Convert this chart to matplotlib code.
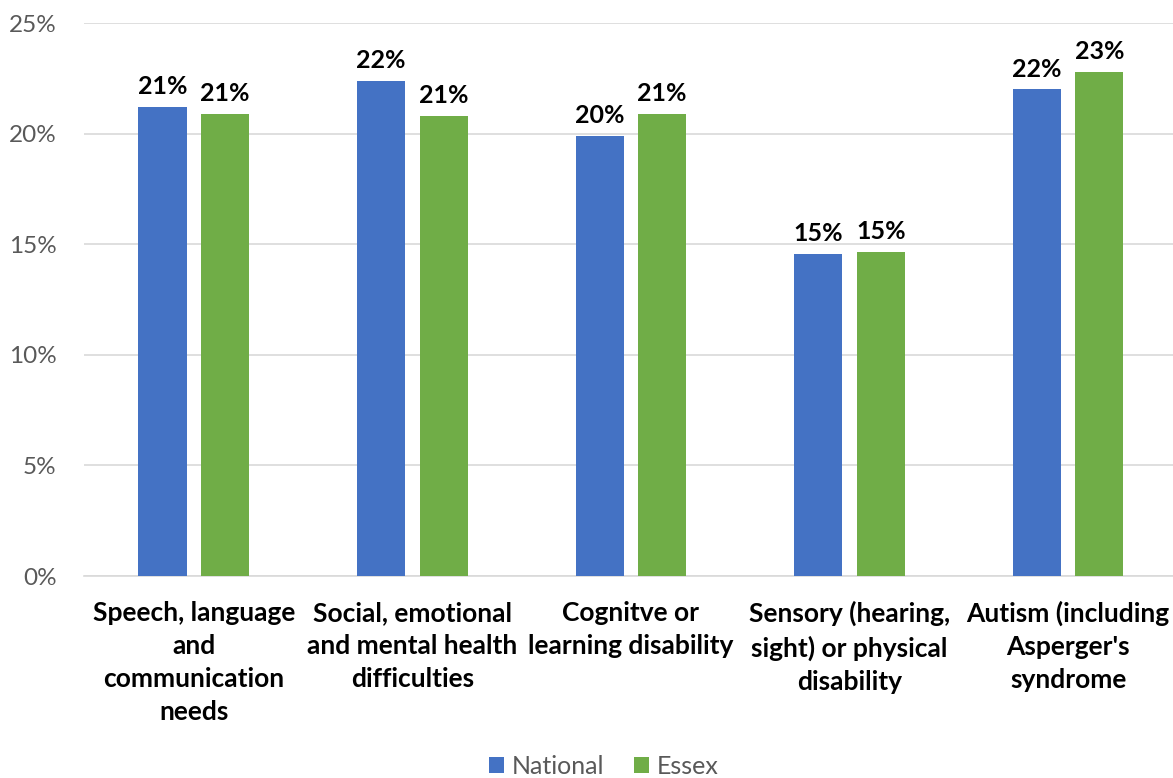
import numpy as np
import matplotlib.pyplot as plt
from matplotlib.ticker import FuncFormatter

plt.rcParams['font.family'] = ['Lato', 'DejaVu Sans']

categories = ["Speech, language\nand\ncommunication\nneeds",
              "Social, emotional\nand mental health\ndifficulties",
              "Cognitve or\nlearning disability",
              "Sensory (hearing,\nsight) or physical\ndisability",
              "Autism (including\nAsperger's\nsyndrome"]
national = [21.2, 22.4, 19.9, 14.55, 22.0]
essex = [20.9, 20.8, 20.9, 14.65, 22.8]

blue = '#4472C4'
green = '#70AD47'
grey = '#595959'

fig = plt.figure(figsize=(11.73, 7.78), dpi=100)
ax = fig.add_axes([0.072, 0.2596, 0.928, 0.7108])

x = np.arange(len(categories))
w = 0.22
off = 0.143
b1 = ax.bar(x - off, national, w, color=blue, label='National', zorder=3)
b2 = ax.bar(x + off, essex, w, color=green, label='Essex', zorder=3)

for bars, vals in ((b1, national), (b2, essex)):
    for b, v in zip(bars, vals):
        ax.text(b.get_x() + b.get_width() / 2, v + 0.4, f"{round(v):.0f}%",
                ha='center', va='bottom', fontsize=18, fontweight='bold',
                color='black')

ax.set_ylim(0, 25)
ax.set_xlim(-0.5, 4.48)
ax.set_yticks(range(0, 26, 5))
ax.yaxis.set_major_formatter(FuncFormatter(lambda v, p: f"{v:.0f}%"))
ax.grid(axis='y', color='#D9D9D9', linewidth=1.2, zorder=0)
for s in ['top', 'right', 'left']:
    ax.spines[s].set_visible(False)
ax.spines['bottom'].set_color('#D9D9D9')
ax.spines['bottom'].set_linewidth(1.2)

ax.set_xticks(x)
ax.set_xticklabels(categories, fontsize=19, fontweight='bold', color='black',
                   linespacing=1.45)
ax.tick_params(axis='x', length=0, pad=18)
ax.tick_params(axis='y', length=0, labelsize=17.5, labelcolor=grey, pad=20)

leg = fig.legend(handles=[b1, b2], loc='center', bbox_to_anchor=(0.515, 0.015),
                 ncol=2, frameon=False, fontsize=18, handlelength=0.6,
                 handleheight=0.6, handletextpad=0.3, columnspacing=1.2)
for t in leg.get_texts():
    t.set_color(grey)

fig.savefig('out.png', dpi=100)
